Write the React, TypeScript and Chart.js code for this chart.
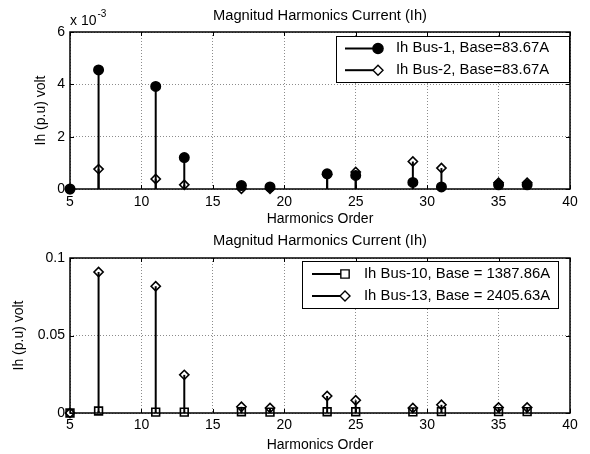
import React, { useEffect, useRef } from "react";
import { Chart, registerables } from "chart.js";

Chart.register(...registerables);

const FONT = '"Liberation Sans", Arial, Helvetica, sans-serif';
Chart.defaults.font.family = FONT;
Chart.defaults.font.size = 14;
Chart.defaults.color = "#000";

// ---------- data ----------
const harmonics = [5, 7, 11, 13, 17, 19, 23, 25, 29, 31, 35, 37];
const bus1 = [0, 0.00455, 0.00392, 0.0012, 0.00013, 0.00008, 0.00058, 0.00052, 0.00025, 0.00008, 0.00016, 0.00016];
const bus2 = [0, 0.00076, 0.00038, 0.00016, 0.00001, 0.00001, 0.00055, 0.00065, 0.00105, 0.0008, 0.00024, 0.00024];
const bus10 = [0, 0.0013, 0.0006, 0.0006, 0.0008, 0.0006, 0.0008, 0.0008, 0.0007, 0.0009, 0.0009, 0.0009];
const bus13 = [0, 0.091, 0.0818, 0.0246, 0.004, 0.0032, 0.011, 0.0082, 0.0032, 0.0053, 0.0036, 0.0036];

const xMin = 5;
const xMax = 40;
const xStep = 5;
const topYMax = 0.006;
const topYStep = 0.002;
const bottomYMax = 0.1;
const bottomYStep = 0.05;

const chartTitle = "Magnitud Harmonics Current (Ih)";
const xTitle = "Harmonics Order";
const yTitle = "Ih (p.u) volt";
const topLabels = ["Ih Bus-1, Base=83.67A", "Ih Bus-2, Base=83.67A"];
const bottomLabels = ["Ih Bus-10, Base = 1387.86A", "Ih Bus-13, Base = 2405.63A"];

type MarkerStyle = "circle" | "rectRot" | "rect";

type Series = { label: string; values: number[]; style: MarkerStyle; radius: number; filled: boolean };

type LegendGeom = { w: number; h: number; insetR: number; insetT: number; padL: number; lineLen: number; gap: number; firstRow: number; rowH: number };

type PanelSpec = {
  height: number;
  titleY: number;
  areaTop: number;
  xAxisHeight: number;
  xTickPad: number;
  yMax: number;
  yStep: number;
  yFmt: (v: number) => string;
  yTitlePad: number;
  exponent: boolean;
  series: Series[];
  legend: LegendGeom;
};

function drawMarker(ctx: CanvasRenderingContext2D, style: MarkerStyle, x: number, y: number, r: number, filled: boolean) {
  ctx.beginPath();
  if (style === "circle") {
    ctx.arc(x, y, r, 0, Math.PI * 2);
  } else if (style === "rectRot") {
    ctx.moveTo(x, y - r);
    ctx.lineTo(x + r, y);
    ctx.lineTo(x, y + r);
    ctx.lineTo(x - r, y);
    ctx.closePath();
  } else {
    const s = r * Math.SQRT1_2;
    ctx.rect(x - s, y - s, 2 * s, 2 * s);
  }
  if (filled) {
    ctx.fillStyle = "#000";
    ctx.fill();
  } else {
    ctx.fillStyle = "#fff";
    ctx.fill();
  }
  ctx.stroke();
}

function drawStretchedText(ctx: CanvasRenderingContext2D, text: string, x: number, y: number, align: CanvasTextAlign, sx: number) {
  ctx.save();
  ctx.translate(x, y);
  ctx.scale(sx, 1);
  ctx.textAlign = align;
  ctx.textBaseline = "middle";
  ctx.fillText(text, 0, 0);
  ctx.restore();
}

function buildConfig(p: PanelSpec): any {
  const datasets = p.series.map((s) => ({
    label: s.label,
    data: harmonics.map((h, i) => ({ x: h, y: s.values[i] })),
    showLine: false,
    pointStyle: s.style,
    pointRadius: s.radius,
    pointHoverRadius: s.radius,
    pointBackgroundColor: s.filled ? "#000" : "rgba(0,0,0,0)",
    pointBorderColor: "#000",
    pointBorderWidth: 1.6,
    clip: false,
  }));

  const frame = {
    id: "frame",
    beforeDatasetsDraw(chart: any) {
      const { ctx, chartArea: a, scales } = chart;
      ctx.save();
      ctx.strokeStyle = "#000";
      ctx.lineWidth = 1;
      const tl = 4;
      scales.x.ticks.forEach((t: any) => {
        const px = Math.round(scales.x.getPixelForValue(t.value)) + 0.5;
        ctx.beginPath();
        ctx.moveTo(px, a.bottom);
        ctx.lineTo(px, a.bottom - tl);
        ctx.moveTo(px, a.top);
        ctx.lineTo(px, a.top + tl);
        ctx.stroke();
      });
      scales.y.ticks.forEach((t: any) => {
        const py = Math.round(scales.y.getPixelForValue(t.value)) + 0.5;
        ctx.beginPath();
        ctx.moveTo(a.left, py);
        ctx.lineTo(a.left + tl, py);
        ctx.moveTo(a.right, py);
        ctx.lineTo(a.right - tl, py);
        ctx.stroke();
      });
      ctx.lineWidth = 1.5;
      ctx.strokeRect(a.left, a.top, a.right - a.left, a.bottom - a.top);
      ctx.restore();
    },
  };

  const stems = {
    id: "stems",
    beforeDatasetsDraw(chart: any) {
      const { ctx, scales } = chart;
      const base = scales.y.getPixelForValue(0);
      ctx.save();
      ctx.strokeStyle = "#000";
      ctx.lineWidth = 2;
      chart.data.datasets.forEach((_: any, di: number) => {
        const meta = chart.getDatasetMeta(di);
        meta.data.forEach((el: any) => {
          ctx.beginPath();
          ctx.moveTo(el.x, base);
          ctx.lineTo(el.x, el.y);
          ctx.stroke();
        });
      });
      ctx.restore();
    },
  };

  const annotations = {
    id: "annotations",
    afterDraw(chart: any) {
      const { ctx, chartArea: a } = chart;
      ctx.save();
      ctx.fillStyle = "#000";
      ctx.font = `14px ${FONT}`;
      drawStretchedText(ctx, chartTitle, (a.left + a.right) / 2, p.titleY, "center", 1.05);
      if (p.exponent) {
        ctx.font = `14px ${FONT}`;
        ctx.textAlign = "left";
        ctx.textBaseline = "middle";
        const base = "x 10";
        ctx.fillText(base, a.left, 21);
        const w = ctx.measureText(base).width;
        ctx.font = `10px ${FONT}`;
        ctx.fillText("-3", a.left + w + 1, 14);
      }
      // legend
      const L = p.legend;
      const x0 = a.right - L.insetR - L.w;
      const y0 = a.top + L.insetT;
      ctx.fillStyle = "#fff";
      ctx.fillRect(x0, y0, L.w, L.h);
      ctx.strokeStyle = "#000";
      ctx.lineWidth = 1;
      ctx.strokeRect(Math.round(x0) + 0.5, Math.round(y0) + 0.5, Math.round(L.w), Math.round(L.h));
      ctx.font = `14px ${FONT}`;
      p.series.forEach((s, i) => {
        const cy = y0 + L.firstRow + i * L.rowH;
        const lx = x0 + L.padL;
        const mx = lx + L.lineLen;
        const edge = s.filled ? 0 : s.style === "rect" ? s.radius * Math.SQRT1_2 : s.radius;
        ctx.strokeStyle = "#000";
        ctx.lineWidth = 2;
        ctx.beginPath();
        ctx.moveTo(lx, cy);
        ctx.lineTo(mx - edge, cy);
        ctx.stroke();
        ctx.lineWidth = 1.4;
        drawMarker(ctx, s.style, mx, cy, s.radius + 0.4, s.filled);
        ctx.fillStyle = "#000";
        drawStretchedText(ctx, s.label, mx + L.gap, cy, "left", 1.06);
      });
      ctx.restore();
    },
  };

  return {
    type: "scatter",
    data: { datasets },
    plugins: [frame, stems, annotations],
    options: {
      animation: false,
      responsive: false,
      devicePixelRatio: 1,
      events: [],
      layout: { padding: { top: p.areaTop, right: 20, left: 0, bottom: 0 } },
      plugins: { legend: { display: false }, title: { display: false }, tooltip: { enabled: false } },
      scales: {
        x: {
          type: "linear",
          min: xMin,
          max: xMax,
          afterFit: (scale: any) => {
            scale.height = p.xAxisHeight;
          },
          ticks: { stepSize: xStep, padding: p.xTickPad, maxRotation: 0, font: { size: 14 }, color: "#000" },
          grid: { color: "rgba(0,0,0,0.45)", lineWidth: 1, drawTicks: false },
          border: { display: false, dash: [1, 2] },
          title: { display: true, text: xTitle, padding: { top: 0, bottom: 0 }, font: { size: 14 }, color: "#000" },
        },
        y: {
          type: "linear",
          min: 0,
          max: p.yMax,
          afterFit: (scale: any) => {
            scale.width = 70;
          },
          ticks: { stepSize: p.yStep, padding: 5, callback: (v: any) => p.yFmt(Number(v)), font: { size: 14 }, color: "#000" },
          grid: { color: "rgba(0,0,0,0.45)", lineWidth: 1, drawTicks: false },
          border: { display: false, dash: [1, 2] },
          title: { display: true, text: yTitle, padding: { top: p.yTitlePad, bottom: 0 }, font: { size: 14 }, color: "#000" },
        },
      },
    },
  };
}

const topSpec: PanelSpec = {
  height: 228,
  titleY: 16,
  areaTop: 32,
  xAxisHeight: 39,
  xTickPad: 5,
  yMax: topYMax,
  yStep: topYStep,
  yFmt: (v) => String(Math.round(v * 1000)),
  yTitlePad: 33,
  exponent: true,
  series: [
    { label: topLabels[0], values: bus1, style: "circle", radius: 4.7, filled: true },
    { label: topLabels[1], values: bus2, style: "rectRot", radius: 4.6, filled: false },
  ],
  legend: { w: 233, h: 46, insetR: 1, insetT: 4, padL: 9, lineLen: 33, gap: 18, firstRow: 12.5, rowH: 21.7 },
};

const bottomSpec: PanelSpec = {
  height: 226,
  titleY: 13,
  areaTop: 30,
  xAxisHeight: 41,
  xTickPad: 4,
  yMax: bottomYMax,
  yStep: bottomYStep,
  yFmt: (v) => String(Math.round(v * 1000) / 1000),
  yTitlePad: 11,
  exponent: false,
  series: [
    { label: bottomLabels[0], values: bus10, style: "rect", radius: 5.5, filled: false },
    { label: bottomLabels[1], values: bus13, style: "rectRot", radius: 4.6, filled: false },
  ],
  legend: { w: 256, h: 47, insetR: 12, insetT: 3, padL: 10, lineLen: 33, gap: 19, firstRow: 13, rowH: 22 },
};

function Panel({ spec }: { spec: PanelSpec }) {
  const ref = useRef<HTMLCanvasElement>(null);
  useEffect(() => {
    if (!ref.current) return;
    const chart = new Chart(ref.current, buildConfig(spec));
    return () => chart.destroy();
  }, [spec]);
  return <canvas ref={ref} width={590} height={spec.height} style={{ display: "block", width: 590, height: spec.height }} />;
}

export default function App() {
  return (
    <div style={{ position: "absolute", left: 0, top: 0, width: 590, height: 454, background: "#fff" }}>
      <Panel spec={topSpec} />
      <Panel spec={bottomSpec} />
    </div>
  );
}
